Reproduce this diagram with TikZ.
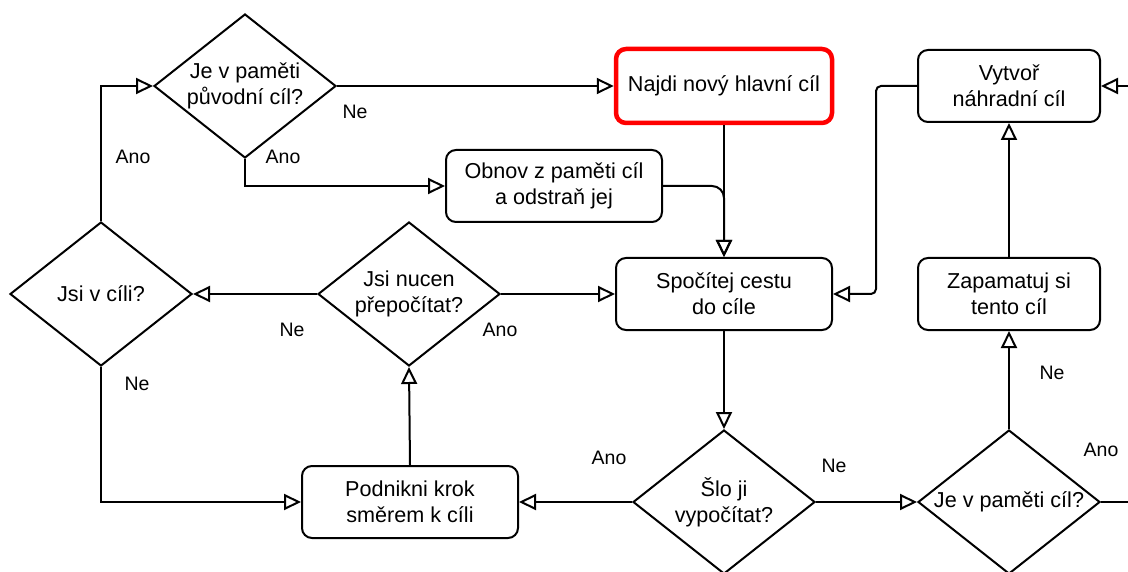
\documentclass[tikz,border=0pt]{standalone}
\usepackage{fontspec}
\setmainfont{Liberation Sans}
\usetikzlibrary{arrows.meta, positioning, shapes.geometric}
\definecolor{cred}{HTML}{FF0000}
\tikzset{
  every picture/.style={line width=2pt, x=1pt, y=-1pt},
  box/.style={draw, rounded corners=10pt, align=center, minimum width=#1, minimum height=72pt, inner sep=0pt, font=\fontsize{21.6}{26}\selectfont},
  box/.default=216pt,
  decision/.style={draw, diamond, aspect=1.26, minimum width=182pt, minimum height=144pt, inner sep=0pt, align=center, font=\fontsize{21.6}{26}\selectfont},
  arrow/.style={-{Triangle[open, length=17pt, width=16pt]}},
  lbl/.style={font=\fontsize{19.5}{23}\selectfont},
}
\begin{document}
\begin{tikzpicture}
  \useasboundingbox (0,0) rectangle (1128,572);
  \clip (0,0) rectangle (1128,572);
  % top row
  \node[decision] (mem1) at (245,86) {Je v paměti\\původní cíl?};
  \node[box, draw=cred, line width=4.5pt, minimum height=74pt] (newgoal) at (724,86) {Najdi nový hlavní cíl};
  \node[box] (restore) at (554,186) {Obnov z paměti cíl\\a odstraň jej};
  \node[box=182pt] (substitute) at (1009,86) {Vytvoř\\náhradní cíl};
  % middle row
  \node[decision] (atgoal) at (101,294) {Jsi v cíli?};
  \node[decision] (forced) at (409,294) {Jsi nucen\\přepočítat?};
  \node[box] (compute) at (724,294) {Spočítej cestu\\do cíle};
  \node[box=182pt] (remember) at (1009,294) {Zapamatuj si\\tento cíl};
  % bottom row
  \node[box] (move) at (410,502) {Podnikni krok\\směrem k cíli};
  \node[decision] (computed) at (724,502) {Šlo ji\\vypočítat?};
  \node[decision] (mem2) at (1009,502) {Je v paměti cíl?};
  \coordinate (offright) at (1128,502);
  \coordinate (offin) at (1128,86);
  % connectors
  \draw[arrow] (atgoal.north) |- (mem1.west);
  \draw[arrow] (mem1.east) -- (newgoal.west);
  \draw[arrow] (mem1.south) |- (restore.west);
  \draw[arrow] (newgoal.south) -- (compute.north);
  \draw[arrow, rounded corners=12pt] (restore.east) -| (compute.north);
  \draw[arrow, rounded corners=5pt] (substitute.west) -- ++(-41,0) |- (compute.east);
  \draw[arrow] (compute.south) -- (computed.north);
  \draw[arrow] (forced.east) -- (compute.west);
  \draw[arrow] (forced.west) -- (atgoal.east);
  \draw[arrow] (atgoal.south) |- (move.west);
  \draw[arrow] (move.north) -- (forced.south);
  \draw[arrow] (computed.west) -- (move.east);
  \draw[arrow] (computed.east) -- (mem2.west);
  \draw[arrow] (mem2.north) -- (remember.south);
  \draw[arrow] (remember.north) -- (substitute.south);
  \draw (mem2.east) -- (offright);
  \draw[arrow] (offin) -- (substitute.east);
  % labels
  \node[lbl] (l1) at (133,157) {Ano};
  \node[lbl] (l2) at (283,157) {Ano};
  \node[lbl] (l3) at (355,112) {Ne};
  \node[lbl] (l4) at (292,330) {Ne};
  \node[lbl] (l5) at (500,330) {Ano};
  \node[lbl] (l6) at (137,384) {Ne};
  \node[lbl] (l7) at (609,458) {Ano};
  \node[lbl] (l8) at (834,466) {Ne};
  \node[lbl] (l9) at (1052,373) {Ne};
  \node[lbl] (l10) at (1101,450) {Ano};
\end{tikzpicture}
\end{document}
